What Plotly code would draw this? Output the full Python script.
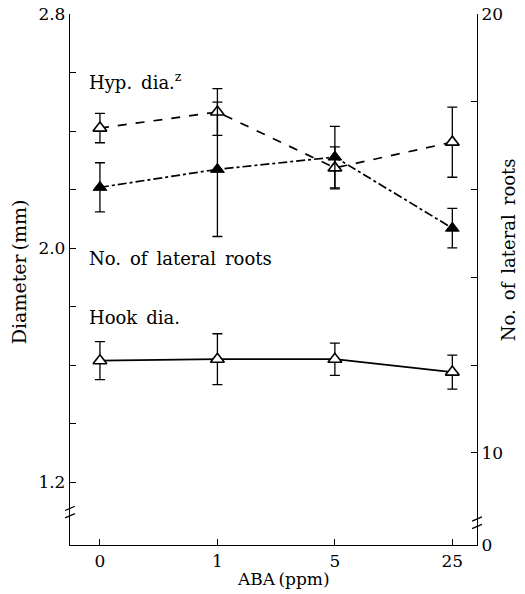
import plotly.graph_objects as go

# ABA treatment levels
aba_ppm = ["0", "1", "5", "25"]

# Hypocotyl diameter (mm), left axis
hyp_dia = [2.41, 2.465, 2.274, 2.362]
hyp_err = [0.05, 0.08, 0.072, 0.12]

# Hook diameter (mm), left axis
hook_dia = [1.615, 1.62, 1.62, 1.576]
hook_err = [0.065, 0.087, 0.055, 0.058]

# Number of lateral roots, right axis
lat_roots = [16.05, 16.46, 16.74, 15.12]
lat_err = [0.56, 1.53, 0.7, 0.45]

left_ticks = [1.2, 2.0, 2.8]
left_labels = ["1.2", "2.0", "2.8"]
left_minor = [1.4, 1.6, 1.8, 2.2, 2.4, 2.6]
right_ticks = [7.9, 10, 20]
right_labels = ["0", "10", "20"]
right_minor = [12, 14, 16, 18]

FONT = "DejaVu Serif"
BLACK = "black"


def err(vals):
    return dict(type="data", array=vals, visible=True, color=BLACK,
                thickness=1.3, width=5)


fig = go.Figure()

fig.add_trace(go.Scatter(
    x=aba_ppm, y=hyp_dia, error_y=err(hyp_err), mode="lines+markers",
    line=dict(color=BLACK, width=1.7, dash="dash"),
    marker=dict(symbol="triangle-up", size=12, color="white",
                line=dict(color=BLACK, width=1.6)),
    yaxis="y", showlegend=False))

fig.add_trace(go.Scatter(
    x=aba_ppm, y=lat_roots, error_y=err(lat_err), mode="lines+markers",
    line=dict(color=BLACK, width=1.7, dash="dashdot"),
    marker=dict(symbol="triangle-up", size=12, color=BLACK,
                line=dict(color=BLACK, width=1)),
    yaxis="y2", showlegend=False))

fig.add_trace(go.Scatter(
    x=aba_ppm, y=hook_dia, error_y=err(hook_err), mode="lines+markers",
    line=dict(color=BLACK, width=1.7),
    marker=dict(symbol="triangle-up", size=12, color="white",
                line=dict(color=BLACK, width=1.6)),
    yaxis="y", showlegend=False))

# series labels inside the plot
annots = [
    dict(text="Hyp.\u2002dia.<sup>z</sup>", x=-0.11, y=2.57),
    dict(text="No.\u2002of\u2002lateral\u2002roots", x=-0.11, y=1.966),
    dict(text="Hook\u2002dia.", x=-0.11, y=1.761),
]
for a in annots:
    fig.add_annotation(text=a["text"], x=a["x"], y=a["y"], xref="x", yref="y",
                       xanchor="left", yanchor="middle", showarrow=False,
                       font=dict(family=FONT, size=18, color=BLACK))

# axis titles
titles = [
    dict(text="Diameter\u2009(mm)", x=-0.125, y=0.514, angle=-90, size=19),
    dict(text="No.\u2002of\u2002lateral\u2002roots", x=1.076, y=0.557,
         angle=-90, size=18),
    dict(text="ABA\u2009(ppm)", x=0.525, y=-0.064, angle=0, size=17),
]
for t in titles:
    fig.add_annotation(text=t["text"], x=t["x"], y=t["y"], xref="paper",
                       yref="paper", xanchor="center", yanchor="middle",
                       textangle=t["angle"], showarrow=False,
                       font=dict(family=FONT, size=t["size"], color=BLACK))

# axis break marks
for xd, y0 in [(0.0, 0.055), (1.0, 0.035)]:
    for dy in (0.0, 0.014):
        fig.add_shape(type="line", xref="x domain", yref="y domain",
                      x0=xd - 0.012, x1=xd + 0.012,
                      y0=y0 + dy - 0.004, y1=y0 + dy + 0.004,
                      line=dict(color=BLACK, width=1.3))

axis_common = dict(showgrid=False, zeroline=False, showline=True,
                   linecolor=BLACK, linewidth=1.3, ticks="inside", ticklen=6,
                   tickcolor=BLACK, automargin=False,
                   tickfont=dict(family=FONT, size=17))

fig.update_layout(
    width=525, height=594,
    margin=dict(l=70, r=48, t=14, b=49),
    paper_bgcolor="white", plot_bgcolor="white",
    font=dict(family=FONT, size=16, color=BLACK),
    xaxis=dict(type="category", range=[-0.255, 3.21], **axis_common),
    yaxis=dict(range=[0.985, 2.8], tickvals=left_ticks, ticktext=left_labels,
               minor=dict(tickvals=left_minor, ticks="inside", ticklen=6,
                          tickcolor=BLACK, showgrid=False),
               **axis_common),
    yaxis2=dict(range=[7.9, 20.0], overlaying="y", side="right",
                tickvals=right_ticks, ticktext=right_labels,
                minor=dict(tickvals=right_minor, ticks="inside", ticklen=6,
                           tickcolor=BLACK, showgrid=False),
                **axis_common),
)

fig.write_html("out.html")
